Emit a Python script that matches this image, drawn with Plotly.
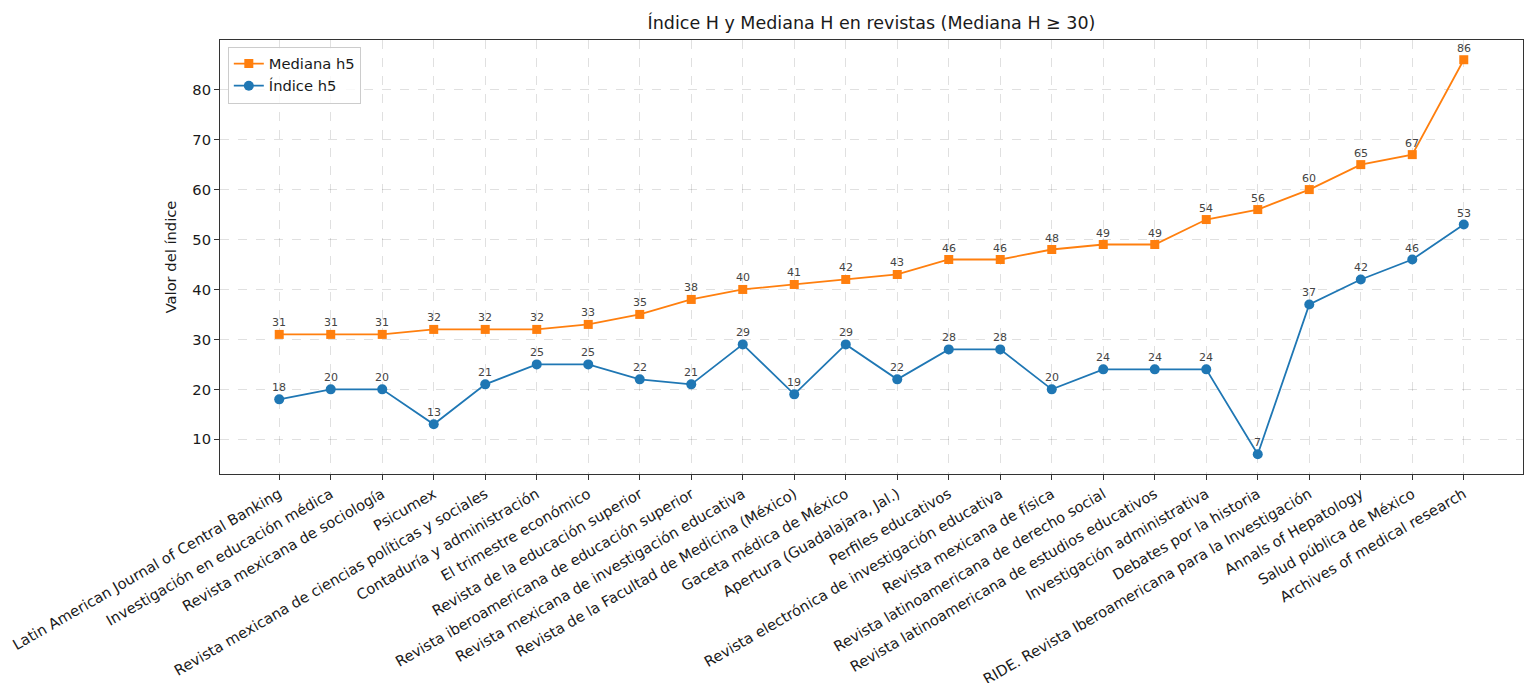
import plotly.graph_objects as go

revistas = [
    "Latin American Journal of Central Banking",
    "Investigación en educación médica",
    "Revista mexicana de sociología",
    "Psicumex",
    "Revista mexicana de ciencias políticas y sociales",
    "Contaduría y administración",
    "El trimestre económico",
    "Revista de la educación superior",
    "Revista iberoamericana de educación superior",
    "Revista mexicana de investigación educativa",
    "Revista de la Facultad de Medicina (México)",
    "Gaceta médica de México",
    "Apertura (Guadalajara, Jal.)",
    "Perfiles educativos",
    "Revista electrónica de investigación educativa",
    "Revista mexicana de física",
    "Revista latinoamericana de derecho social",
    "Revista latinoamericana de estudios educativos",
    "Investigación administrativa",
    "Debates por la historia",
    "RIDE. Revista Iberoamericana para la Investigación",
    "Annals of Hepatology",
    "Salud pública de México",
    "Archives of medical research",
]
mediana_h5 = [31, 31, 31, 32, 32, 32, 33, 35, 38, 40, 41, 42, 43, 46, 46, 48, 49, 49, 54, 56, 60, 65, 67, 86]
indice_h5 = [18, 20, 20, 13, 21, 25, 25, 22, 21, 29, 19, 29, 22, 28, 28, 20, 24, 24, 24, 7, 37, 42, 46, 53]

x = list(range(len(revistas)))
FONT = "DejaVu Sans"
TXT = "#1a1a1a"

fig = go.Figure()
fig.add_trace(go.Scatter(
    x=x, y=mediana_h5, name="Mediana h5", mode="lines+markers",
    line=dict(color="#ff7f0e", width=1.8),
    marker=dict(symbol="square", size=9, color="#ff7f0e"),
))
fig.add_trace(go.Scatter(
    x=x, y=indice_h5, name="Índice h5", mode="lines+markers",
    line=dict(color="#1f77b4", width=1.8),
    marker=dict(symbol="circle", size=10, color="#1f77b4"),
))

for series in (mediana_h5, indice_h5):
    for xi, v in zip(x, series):
        fig.add_annotation(
            x=xi, y=v, text=str(v), showarrow=False,
            xanchor="center", yanchor="bottom", yshift=3,
            font=dict(family=FONT, size=11, color="#444444"),
        )

fig.update_layout(
    width=1525, height=683,
    margin=dict(l=220, r=2, t=40, b=209, autoexpand=False),
    paper_bgcolor="white", plot_bgcolor="white",
    font=dict(family=FONT, size=14, color=TXT),
    title=dict(text="Índice H y Mediana H en revistas (Mediana H ≥ 30)",
               x=0.5, xref="paper", xanchor="center", y=1 - 23 / 683, yanchor="middle",
               font=dict(family=FONT, size=17.5, color=TXT)),
    showlegend=True,
    legend=dict(x=0.006, y=0.985, xanchor="left", yanchor="top",
                bgcolor="rgba(255,255,255,0.8)", bordercolor="#cccccc", borderwidth=1,
                font=dict(family=FONT, size=14.7), tracegroupgap=0),
)
fig.update_xaxes(
    range=[-1.15, 24.15], tickmode="array", tickvals=x, ticktext=revistas,
    tickangle=-30, ticks="outside", ticklen=5, tickcolor="#333333", automargin=False,
    showline=True, linecolor="#333333", linewidth=1, mirror=True,
    showgrid=True, gridcolor="rgba(0,0,0,0.12)", griddash="dash", gridwidth=1,
    zeroline=False, tickfont=dict(family=FONT, size=14.7, color=TXT),
)
fig.update_yaxes(
    range=[3.05, 89.95], tickmode="array", tickvals=[10, 20, 30, 40, 50, 60, 70, 80],
    ticks="outside", ticklen=5, tickcolor="#333333", automargin=False,
    showline=True, linecolor="#333333", linewidth=1, mirror=True,
    showgrid=True, gridcolor="rgba(0,0,0,0.12)", griddash="dash", gridwidth=1,
    zeroline=False, tickfont=dict(family=FONT, size=14.7, color=TXT),
    title=dict(text="Valor del índice", font=dict(family=FONT, size=14.7, color=TXT), standoff=12),
)

fig.write_html(
    "out.html",
    config={"displayModeBar": False},
    post_script="document.body.style.margin='0';document.body.style.padding='0';document.body.style.overflow='hidden';",
)
